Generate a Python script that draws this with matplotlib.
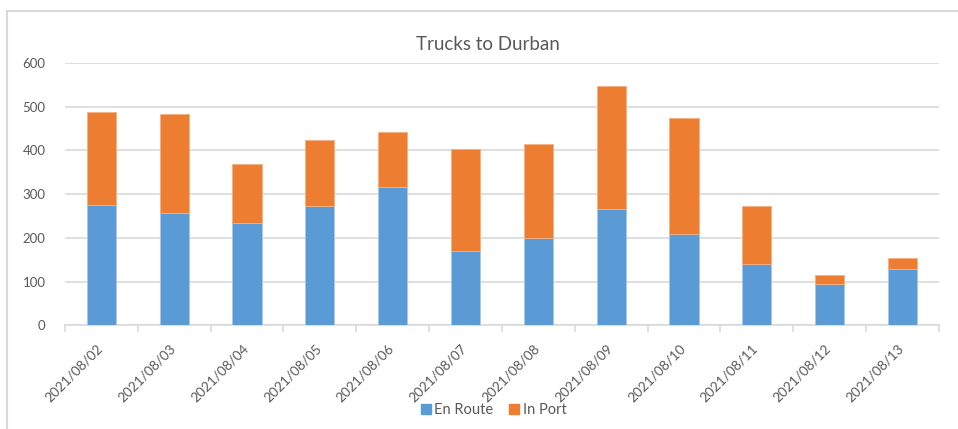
import numpy as np
import matplotlib.pyplot as plt
import matplotlib.transforms as mtransforms
from matplotlib.patches import Rectangle
from matplotlib.lines import Line2D

plt.rcParams['font.family'] = ['Lato', 'DejaVu Sans']

# Data
dates = ["2021/08/02", "2021/08/03", "2021/08/04", "2021/08/05", "2021/08/06", "2021/08/07",
         "2021/08/08", "2021/08/09", "2021/08/10", "2021/08/11", "2021/08/12", "2021/08/13"]
en_route = [275, 257, 233, 272, 316, 170, 200, 267, 209, 140, 94, 129]
in_port = [212, 227, 135, 153, 126, 233, 215, 280, 266, 133, 22, 24]

blue = "#5B9BD5"
orange = "#ED7D31"
grid_c = "#D9D9D9"
text_c = "#595959"

fig = plt.figure(figsize=(9.58, 4.29), dpi=100)
ax = fig.add_axes([0.0678, 0.2417, 0.9122, 0.6113])

# chart frame (cut off on the right and bottom)
fig.patches.append(Rectangle((7 / 958, -0.5), 2.0, 1.5 - 10.5 / 429, transform=fig.transFigure,
                             fill=False, edgecolor=grid_c, linewidth=1.5))

x = np.arange(len(dates))
ax.bar(x, en_route, width=0.4, color=blue, edgecolor="#A9C8EA", linewidth=0.6, zorder=3, label="En Route")
ax.bar(x, in_port, width=0.4, bottom=en_route, color=orange, edgecolor="#F4B183", linewidth=0.6,
       zorder=3, label="In Port")

ax.set_xlim(-0.5, len(dates) - 0.5)
ax.set_ylim(0, 600)
ax.set_yticks(range(0, 601, 100))
ax.yaxis.grid(True, color=grid_c, linewidth=1.2)
ax.set_axisbelow(True)
for s in ["top", "right", "left"]:
    ax.spines[s].set_visible(False)
ax.spines["bottom"].set_color(grid_c)
ax.spines["bottom"].set_linewidth(1.2)
ax.tick_params(axis="y", length=0, pad=14, labelsize=9.5, labelcolor=text_c)

ax.set_xticks(x)
ax.set_xticklabels(dates, rotation=45, ha="right", rotation_mode="anchor")
ax.tick_params(axis="x", which="major", length=0, pad=12, labelsize=9.8, labelcolor=text_c)
shift = mtransforms.ScaledTranslation(-0.05, 0, fig.dpi_scale_trans)
for lab in ax.get_xticklabels():
    lab.set_transform(lab.get_transform() + shift)
ax.set_xticks(np.arange(-0.5, len(dates)), minor=True)
ax.tick_params(axis="x", which="minor", length=5, width=1.2, color=grid_c)

fig.text(0.509, 1 - 45 / 429, "Trucks to Durban", ha="center", va="center", fontsize=13.5, color=text_c)

handles = [Line2D([], [], marker="s", linestyle="", markersize=7, color=blue),
           Line2D([], [], marker="s", linestyle="", markersize=7, color=orange)]
fig.legend(handles, ["En Route", "In Port"], loc="center", bbox_to_anchor=(0.514, 1 - 410 / 429),
           ncol=2, frameon=False, fontsize=10.5, labelcolor=text_c, handletextpad=0.1,
           columnspacing=0.9, handlelength=1.0)

fig.savefig("out.png", dpi=100)
